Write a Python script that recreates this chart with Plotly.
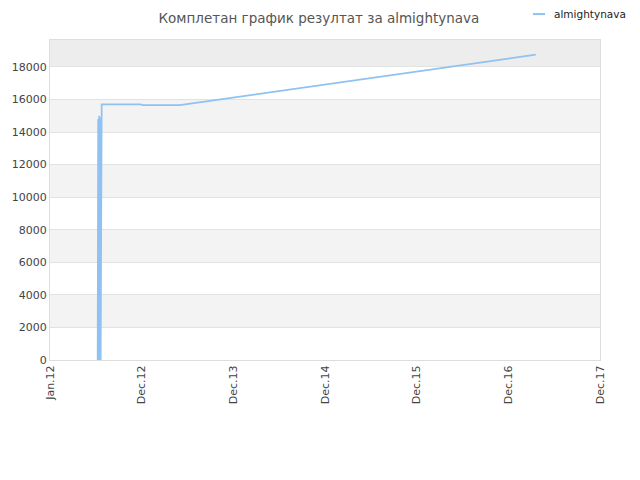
import pandas as pd
import plotly.graph_objects as go

# rating history of almightynava
dates = ["2012-07-09", "2012-07-11", "2012-07-13", "2012-07-15", "2012-07-17",
         "2012-07-19", "2012-07-21", "2012-07-22", "2012-07-23", "2012-07-25",
         "2012-12-28", "2013-01-02", "2013-06-01", "2017-04-20"]
scores = [0, 14800, 0, 15000, 0, 14900, 0, 15000, 15600, 15700,
          15700, 15650, 15650, 18750]

tick_dates = ["2012-01-01", "2013-01-01", "2014-01-01", "2015-01-01",
              "2016-01-01", "2017-01-01", "2018-01-01"]
tick_labels = ["Jan.12", "Dec.12", "Dec.13", "Dec.14", "Dec.15", "Dec.16", "Dec.17"]

series_name = "almightynava"
line_color = "#8fc1f2"

df = pd.DataFrame({"date": pd.to_datetime(dates), "score": scores})

fig = go.Figure()
fig.add_trace(go.Scatter(x=df["date"], y=df["score"], mode="lines",
                         name=series_name, showlegend=False,
                         line=dict(color=line_color, width=1.7)))

# alternating bands
bands = [(2000, 4000), (6000, 8000), (10000, 12000), (14000, 16000)]
for lo, hi in bands:
    fig.add_shape(type="rect", xref="paper", yref="y", x0=0, x1=1, y0=lo, y1=hi,
                  fillcolor="#f3f3f3", line_width=0, layer="below")
fig.add_shape(type="rect", xref="paper", yref="y", x0=0, x1=1, y0=18000, y1=19650,
              fillcolor="#ededed", line_width=0, layer="below")

# legend drawn by hand so it does not push the margins
fig.add_shape(type="line", xref="paper", yref="paper", x0=0.878, x1=0.9, y0=1.081, y1=1.081,
              line=dict(color=line_color, width=2))
fig.add_annotation(text=series_name, xref="paper", yref="paper", x=0.912, y=1.081,
                   xanchor="left", yanchor="middle", showarrow=False,
                   font=dict(size=10.5, color="#222"))

# the page adds an 8px body margin, so margins are shifted by 8px
fig.update_layout(
    width=640, height=480,
    margin=dict(l=42, r=48, t=32, b=128),
    paper_bgcolor="white", plot_bgcolor="white",
    font=dict(family="DejaVu Sans", size=11, color="#444"),
    title=dict(text="Комплетан график резултат за almightynava", x=0.489, xref="paper",
               y=0.978, yanchor="middle", font=dict(size=13.5, color="#555")),
)
fig.update_xaxes(range=["2012-01-01", "2018-01-01"], tickvals=tick_dates, ticktext=tick_labels,
                 tickangle=-90, showgrid=False, showline=True, linecolor="#dddddd",
                 mirror=True, ticks="", zeroline=False, automargin=False)
fig.update_yaxes(range=[0, 19650], tickvals=list(range(0, 20000, 2000)), showgrid=True,
                 gridcolor="#e2e2e2", showline=True, linecolor="#dddddd", mirror=True,
                 zeroline=False, ticks="", tickformat="d", automargin=False)

fig.write_html("out.html")
